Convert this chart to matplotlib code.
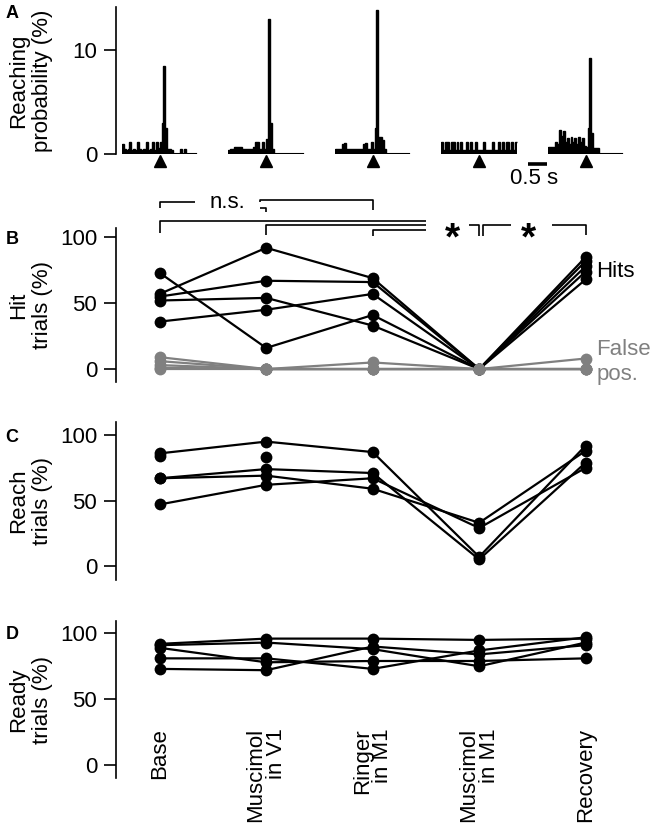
import matplotlib
matplotlib.use('Agg')
import matplotlib.pyplot as plt
import numpy as np

plt.rcParams['font.family'] = ['Liberation Sans', 'DejaVu Sans']
plt.rcParams['font.size'] = 16

# ---------------- data ----------------
conditions = ['Base', 'Muscimol\nin V1', 'Ringer\nin M1', 'Muscimol\nin M1', 'Recovery']

bin_width = 0.05          # s
trace_duration = 2.0      # s, cue at 1.0 s
cue_time = 1.0
# reaching probability (%) per 50 ms bin, one trace per condition
trace_base = [1.0, 0.5, 0.4, 0.5, 1.2, 0.4, 0.5, 0.4, 1.2, 0.5, 0.4, 0.5, 0.4, 1.2, 0.4, 0.5,
              1.2, 0.4, 1.2, 0.6, 1.2, 3.0, 8.5, 2.5, 0.5, 0.5, 0.4, 0, 0, 0, 0, 0.5, 0, 0.5,
              0, 0, 0, 0, 0, 0]
trace_musc_v1 = [0.4, 0.5, 0.5, 0.7, 0.7, 0.7, 0.7, 0.5, 0.5, 0.5, 0.5, 0.5, 0.5, 0.7, 1.2, 1.2,
                 0.5, 0.5, 1.2, 0.5, 1.5, 13.0, 3.0, 0.5, 0, 0, 0, 0, 0, 0, 0, 0, 0, 0, 0, 0,
                 0, 0, 0, 0]
trace_ringer = [0.5, 0.5, 0.5, 0.5, 1.0, 1.1, 0.5, 0.5, 0.5, 0.5, 0.5, 0.5, 0.5, 0.5, 0.5, 1.0,
                1.1, 0.5, 0.5, 1.2, 0.5, 2.5, 13.8, 1.7, 1.7, 1.4, 0.5, 0, 0, 0, 0, 0, 0, 0,
                0, 0, 0, 0, 0, 0]
trace_musc_m1 = [1.2, 0.4, 1.2, 1.2, 0.4, 1.2, 1.2, 0.4, 1.2, 0.4, 1.2, 0.4, 0.4, 1.2, 0.4, 1.2,
                 0.4, 0.4, 1.2, 0.4, 0.4, 0.4, 1.2, 0.4, 0.4, 0.4, 0.4, 1.2, 0.4, 0.4, 1.2, 0.4,
                 1.2, 0.4, 1.2, 1.2, 0.4, 1.2, 0.4, 1.2]
trace_recovery = [0.7, 0.7, 0.7, 0.7, 1.2, 1.0, 2.3, 1.8, 2.2, 1.2, 1.6, 1.0, 1.7, 1.2, 1.6, 1.0,
                  1.7, 1.2, 1.6, 0.8, 0.7, 2.5, 9.2, 2.0, 0.6, 0.6, 0.6, 0, 0, 0, 0, 0, 0, 0,
                  0, 0, 0, 0, 0, 0]
traces = [trace_base, trace_musc_v1, trace_ringer, trace_musc_m1, trace_recovery]

# hit trials (%) per animal across conditions
hits_1 = [73, 16, 41, 0, 85]
hits_2 = [57, 92, 69, 0, 82]
hits_3 = [55, 67, 66, 0, 78]
hits_4 = [52, 54, 33, 0, 74]
hits_5 = [36, 45, 57, 0, 68]
hits = [hits_1, hits_2, hits_3, hits_4, hits_5]

# false positives (%)
fp_1 = [9, 0, 0, 0, 0]
fp_2 = [6, 0, 5, 0, 8]
fp_3 = [3, 0, 0, 0, 0]
fp_4 = [1, 0, 0, 0, 0]
fp_5 = [0, 0, 0, 0, 0]
false_pos = [fp_1, fp_2, fp_3, fp_4, fp_5]

# reach trials (%)
reach_1 = [86, 95, 87, 7, 92]
reach_2 = [67, 74, 71, 5, 79]
reach_3 = [67, 69, 59, 33, 88]
reach_4 = [47, 62, 67, 29, 75]
reach_5 = [84, 83, np.nan, np.nan, np.nan]   # dots only
reach = [reach_1, reach_2, reach_3, reach_4]

# ready trials (%)
ready_1 = [92, 96, 96, 95, 96]
ready_2 = [91, 93, 88, 75, 93]
ready_3 = [89, 78, 79, 79, 81]
ready_4 = [81, 81, 73, 87, 97]
ready_5 = [73, 72, 90, 84, 91]
ready = [ready_1, ready_2, ready_3, ready_4, ready_5]

# ---------------- layout ----------------
W, H = 656, 830
fig = plt.figure(figsize=(W / 100, H / 100), dpi=100)


def rect(l, t, r, b):
    return [l / W, 1 - b / H, (r - l) / W, (b - t) / H]


XLIM = (-0.41, 4.51)
AX_LEFT, AX_RIGHT = 116, 640
sec_per_unit = 2.819
LW = 1.6
MS = 8.5
TICKLEN = 8.5
YLABEL_X = (53 - AX_LEFT) / (AX_RIGHT - AX_LEFT)


def style(ax, yticks, ylim):
    ax.set_xlim(*XLIM)
    ax.set_ylim(*ylim)
    for s in ['top', 'right', 'bottom']:
        ax.spines[s].set_visible(False)
    ax.spines['left'].set_linewidth(1.2)
    ax.set_xticks([])
    ax.set_yticks(yticks)
    ax.tick_params(axis='y', length=TICKLEN, width=1.2, labelsize=16, pad=5)
    ax.patch.set_alpha(0)


def ylabel(ax, text):
    ax.set_ylabel(text, fontsize=16, linespacing=1.2)
    ax.yaxis.set_label_coords(YLABEL_X, 0.5)


x = np.arange(len(conditions))

# ---- Panel A ----
axA = fig.add_axes(rect(AX_LEFT, 6.7, AX_RIGHT, 154.3))
style(axA, [0, 10], (0, 14.15))
for i, tr in enumerate(traces):
    tr = np.asarray(tr, dtype=float)
    t_edges = np.arange(len(tr) + 1) * bin_width
    edges = i + (t_edges - cue_time) / sec_per_unit
    axA.stairs(tr, edges, fill=True, color='k', lw=0)
    axA.stairs(tr, edges, fill=False, color='k', lw=1.0, baseline=None)
    axA.plot([edges[0], edges[-1]], [0, 0], color='k', lw=1.5, solid_capstyle='butt')
    axA.plot([i], [-0.64], marker='^', color='k', ms=8, clip_on=False)
sb_x0 = 3.458
axA.plot([sb_x0, sb_x0 + 0.5 / sec_per_unit], [-0.96, -0.96], color='k', lw=2.6,
         solid_capstyle='butt', clip_on=False)
axA.text(sb_x0 + 0.25 / sec_per_unit - 0.03, -2.3, '0.5 s', ha='center', va='center', fontsize=16)
ylabel(axA, 'Reaching\nprobability (%)')

# ---- Panel B ----
axB = fig.add_axes(rect(AX_LEFT, 228.3, AX_RIGHT, 381.7))
style(axB, [0, 50, 100], (-9.6, 106.8))
for h in hits:
    axB.plot(x, h, '-o', color='k', lw=LW, ms=MS, mew=0, clip_on=False)
for f in false_pos:
    axB.plot(x, f, '-o', color='#808080', lw=LW, ms=MS, mew=0, clip_on=False)
axB.text(4.1, 74, 'Hits', ha='left', va='center', fontsize=16, color='k')
axB.text(4.1, 5, 'False\npos.', ha='left', va='center', fontsize=16, color='#808080',
         linespacing=1.25)
ylabel(axB, 'Hit\ntrials (%)')

# significance brackets
blw = 1.2
segments = [
    ([0, 0, 0.33], [122, 127, 127]),
    ([0.94, 1.0, 1.0], [122.5, 122.5, 119.4]),
    ([0.94, 0.94, 2.0, 2.0], [126.6, 128.3, 128.3, 120.7]),
    ([0, 0, 2.5], [103, 112.4, 112.4]),
    ([1, 1, 2.5], [101.7, 109.6, 109.6]),
    ([2, 2, 2.5], [101, 105.8, 105.8]),
    ([2.9, 3.0, 3.0], [109.3, 109.3, 101]),
    ([3.04, 3.04, 3.3], [101, 109.3, 109.3]),
    ([3.68, 4.0, 4.0], [109.3, 109.3, 101.5]),
]
for xs, ys in segments:
    axB.plot(xs, ys, color='k', lw=blw, clip_on=False, solid_capstyle='butt')
axB.text(0.64, 121.9, 'n.s.', ha='center', va='baseline', fontsize=16)
for sx in [2.75, 3.46]:
    axB.text(sx, 91, '*', ha='center', va='baseline', fontsize=28, fontweight='bold')

# ---- Panel C ----
axC = fig.add_axes(rect(AX_LEFT, 421.7, AX_RIGHT, 580))
style(axC, [0, 50, 100], (-10.7, 110.2))
for r in reach:
    axC.plot(x, r, '-o', color='k', lw=LW, ms=MS, mew=0, clip_on=False)
axC.plot(x, reach_5, 'o', color='k', ms=MS, mew=0, clip_on=False)
ylabel(axC, 'Reach\ntrials (%)')

# ---- Panel D ----
axD = fig.add_axes(rect(AX_LEFT, 620.7, AX_RIGHT, 778.3))
style(axD, [0, 50, 100], (-10.1, 109.6))
for r in ready:
    axD.plot(x, r, '-o', color='k', lw=LW, ms=MS, mew=0, clip_on=False)
ylabel(axD, 'Ready\ntrials (%)')
for xi, lab in zip(x, conditions):
    axD.text(xi, 28, lab, rotation=90, ha='center', va='top', multialignment='right',
             fontsize=16, linespacing=0.95)

# panel letters
for lab, yy in zip('ABCD', [13.5, 239, 437, 634]):
    fig.text(12 / W, 1 - yy / H, lab, ha='center', va='center', fontsize=13, fontweight='bold')

fig.savefig('out.png', dpi=100)
